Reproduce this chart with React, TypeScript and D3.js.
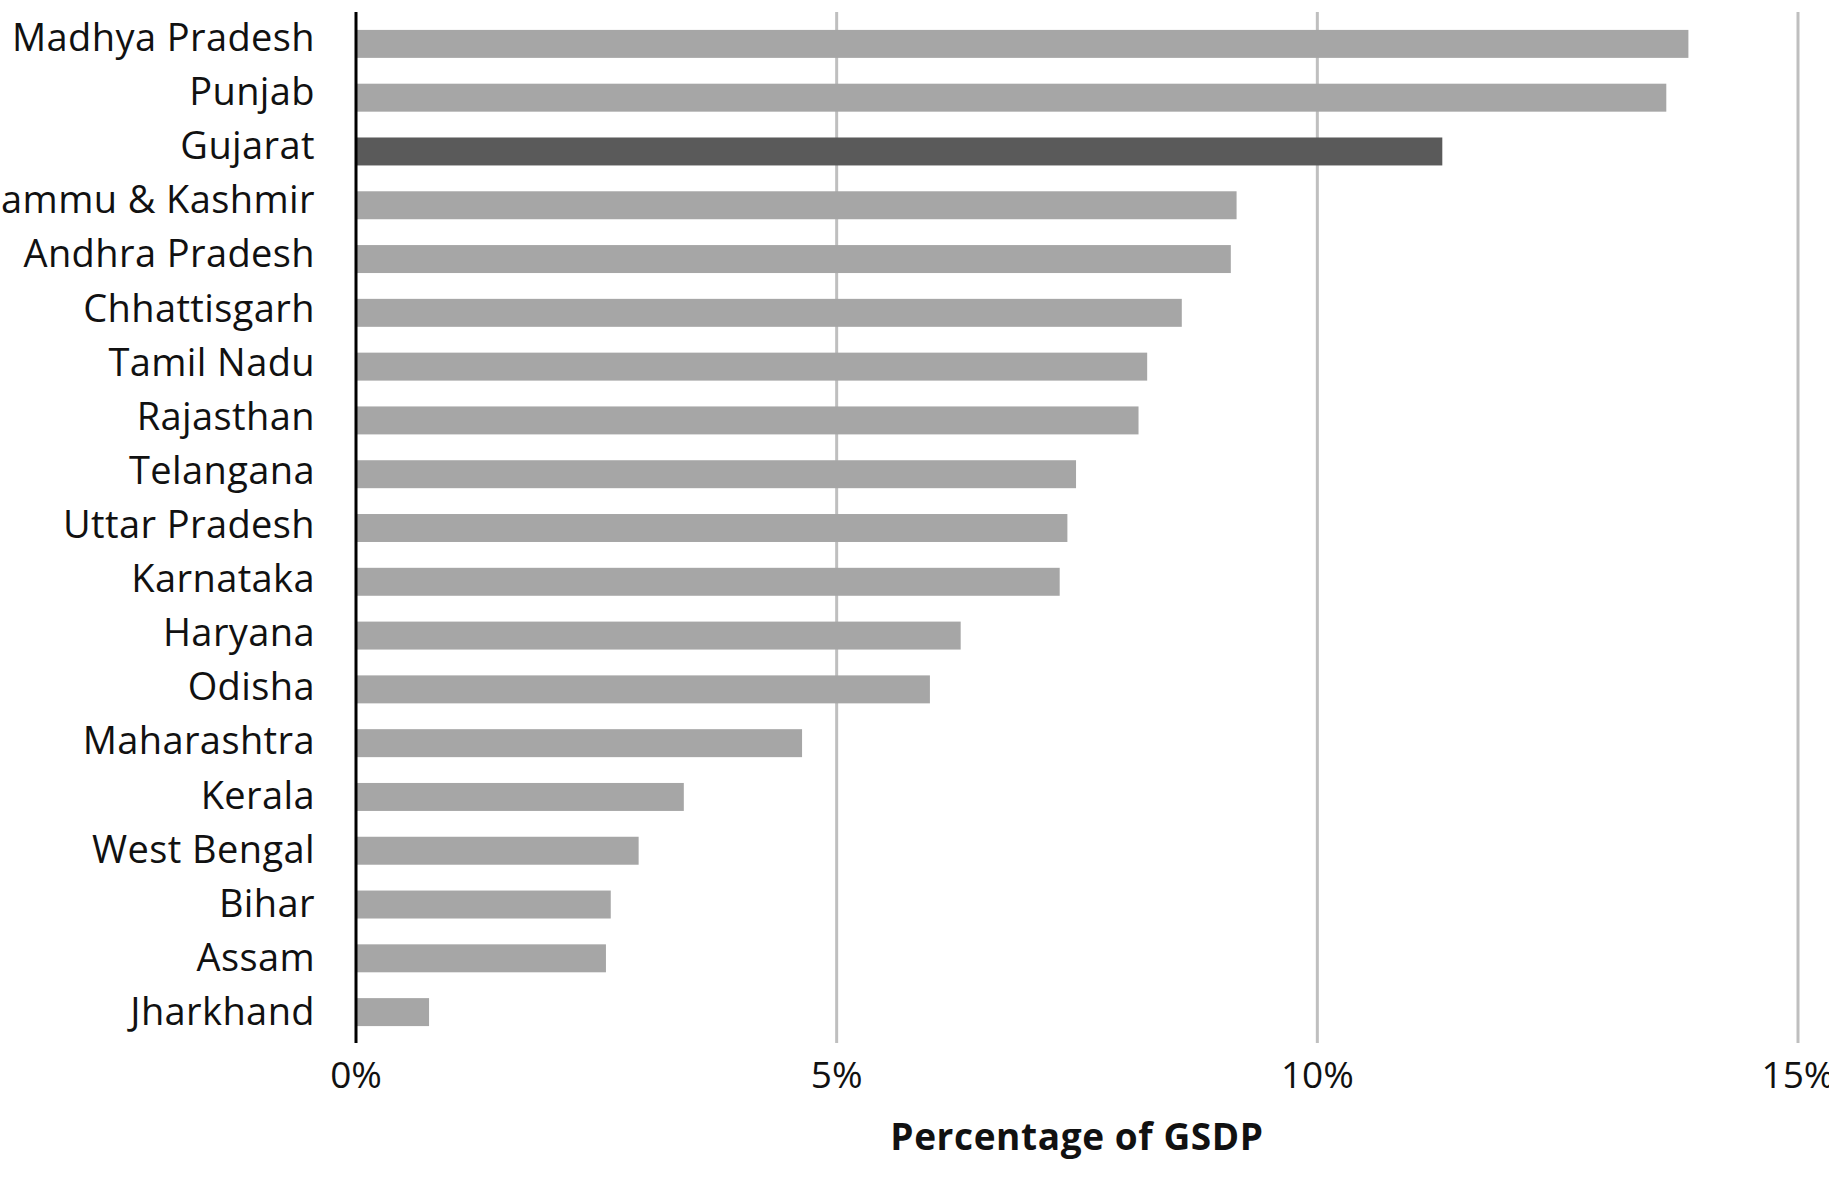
import React from "react";
import * as d3 from "d3";

const states = [
  "Madhya Pradesh",
  "Punjab",
  "Gujarat",
  "Jammu & Kashmir",
  "Andhra Pradesh",
  "Chhattisgarh",
  "Tamil Nadu",
  "Rajasthan",
  "Telangana",
  "Uttar Pradesh",
  "Karnataka",
  "Haryana",
  "Odisha",
  "Maharashtra",
  "Kerala",
  "West Bengal",
  "Bihar",
  "Assam",
  "Jharkhand",
];

const values = [
  13.86, 13.63, 11.3, 9.16, 9.1, 8.59, 8.23, 8.14, 7.49, 7.4, 7.32, 6.29, 5.97,
  4.64, 3.41, 2.94, 2.65, 2.6, 0.76,
];

const highlighted = ["Gujarat"];
const xTicks = [0, 5, 10, 15];
const xTitle = "Percentage of GSDP";

const W = 1829;
const H = 1181;

export default function App() {
  const x = d3.scaleLinear().domain([0, 15]).range([356, 1798]);
  const y = d3
    .scaleBand<string>()
    .domain(states)
    .range([17, 1039])
    .paddingInner(0.48)
    .paddingOuter(0.24);
  // label positions (slightly wider spread than bars, as in the reference)
  const yLabel = d3.scalePoint<string>().domain(states).range([36, 1010]);
  const top = 12;
  const bottom = 1043;
  const font = "'Open Sans', 'DejaVu Sans', sans-serif";

  return (
    <svg
      width={W}
      height={H}
      style={{ position: "absolute", left: 0, top: 0, background: "#fff" }}
      fontFamily={font}
    >
      {xTicks
        .filter((t) => t !== 0)
        .map((t) => (
          <line
            key={"g" + t}
            x1={x(t)}
            x2={x(t)}
            y1={top}
            y2={bottom}
            stroke="#bfbfbf"
            strokeWidth={3}
          />
        ))}
      {states.map((s, i) => (
        <rect
          key={s}
          x={x(0)}
          y={y(s)!}
          width={x(values[i]) - x(0)}
          height={y.bandwidth()}
          fill={highlighted.includes(s) ? "#5a5a5a" : "#a6a6a6"}
        />
      ))}
      <line x1={x(0)} x2={x(0)} y1={top} y2={bottom} stroke="#000" strokeWidth={3} />
      {states.map((s) => (
        <text
          key={"l" + s}
          x={315}
          y={yLabel(s)!}
          textAnchor="end"
          dominantBaseline="central"
          fontSize={38}
          letterSpacing={0.4}
          fill="#111"
        >
          {s}
        </text>
      ))}
      {xTicks.map((t) => (
        <text
          key={"t" + t}
          x={x(t)}
          y={1088}
          textAnchor="middle"
          fontSize={37}
          fill="#111"
        >
          {t + "%"}
        </text>
      ))}
      <text
        x={1077}
        y={1150}
        textAnchor="middle"
        fontSize={37}
        fontWeight="bold"
        letterSpacing={0.6}
        fill="#111"
      >
        {xTitle}
      </text>
    </svg>
  );
}
